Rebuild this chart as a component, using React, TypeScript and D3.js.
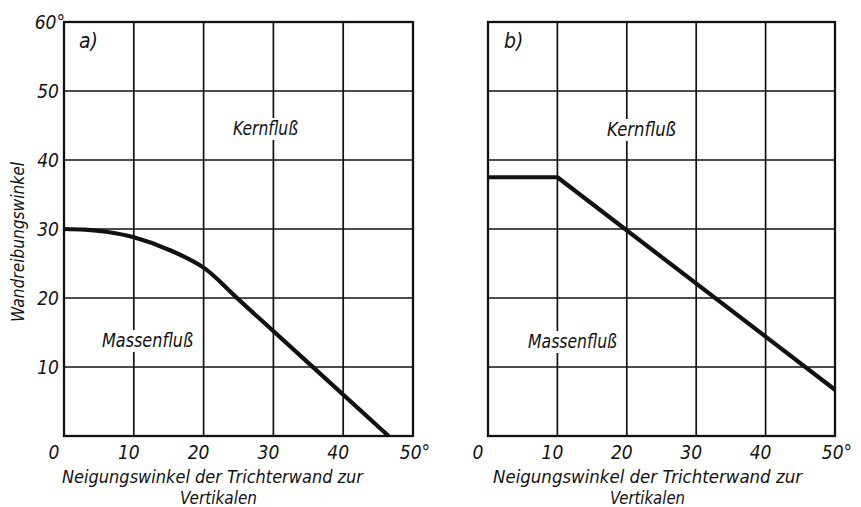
import React from "react";
import * as d3 from "d3";

const xTicks = [0, 10, 20, 30, 40, 50];
const xTickLabels = ["0", "10", "20", "30", "40", "50°"];
const yTicks = [0, 10, 20, 30, 40, 50, 60];
const yTickLabels = ["", "10", "20", "30", "40", "50", "60°"];

// Panel a: boundary between mass flow and core flow
const curveAx = [0, 3, 6, 10, 15, 20, 25, 46.5];
const curveAy = [30, 29.9, 29.6, 28.8, 27.0, 24.4, 19.8, 0];

// Panel b boundary
const lineBx = [0, 10, 50];
const lineBy = [37.5, 37.5, 6.7];

const yTitle = "Wandreibungswinkel";
const xTitle1 = "Neigungswinkel der Trichterwand zur";
const xTitle2 = "Vertikalen";
const upperLabel = "Kernfluß";
const lowerLabel = "Massenfluß";

const FONT = "'DejaVu Sans Condensed', 'Liberation Sans Narrow', 'DejaVu Sans', sans-serif";
const INK = "#111";

type PanelProps = {
  x0: number;
  x1: number;
  tag: string;
  tagX: number;
  segments: { xs: number[]; ys: number[]; smooth: boolean }[];
  upper: { x: number; y: number; w: number };
  lower: { x: number; y: number; w: number };
  title: { x1: number; w1: number; x2: number; w2: number };
  showY: boolean;
};

const top = 22;
const bottom = 436;

function Panel(p: PanelProps) {
  const x = d3.scaleLinear().domain([0, 50]).range([p.x0, p.x1]);
  const y = d3.scaleLinear().domain([0, 60]).range([bottom, top]);
  return (
    <g>
      {xTicks.slice(1, -1).map((t) => (
        <line key={"vx" + t} x1={x(t)} x2={x(t)} y1={top} y2={bottom} stroke={INK} strokeWidth={1.7} />
      ))}
      {yTicks.slice(1, -1).map((t) => (
        <line key={"hy" + t} x1={p.x0} x2={p.x1} y1={y(t)} y2={y(t)} stroke={INK} strokeWidth={1.7} />
      ))}
      <rect x={p.upper.x - 3} y={p.upper.y - 17} width={p.upper.w + 6} height={22} fill="white" />
      <text x={p.upper.x} y={p.upper.y} fontFamily={FONT} fontStyle="italic" fontSize={19} fill={INK}
        textLength={p.upper.w} lengthAdjust="spacingAndGlyphs">{upperLabel}</text>
      <rect x={p.lower.x - 3} y={p.lower.y - 17} width={p.lower.w + 6} height={22} fill="white" />
      <text x={p.lower.x} y={p.lower.y} fontFamily={FONT} fontStyle="italic" fontSize={19} fill={INK}
        textLength={p.lower.w} lengthAdjust="spacingAndGlyphs">{lowerLabel}</text>
      <rect x={p.x0} y={top} width={p.x1 - p.x0} height={bottom - top} fill="none" stroke={INK} strokeWidth={2.3} />
      {p.segments.map((s, i) => {
        const gen = d3
          .line<number>()
          .x((d) => x(s.xs[d]))
          .y((d) => y(s.ys[d]))
          .curve(s.smooth ? d3.curveCatmullRom.alpha(0.5) : d3.curveLinear);
        return (
          <path key={i} d={gen(s.xs.map((_, j) => j)) || ""} fill="none" stroke={INK} strokeWidth={4.2}
            strokeLinecap="butt" strokeLinejoin="round" />
        );
      })}
      <text x={p.tagX} y={48} fontFamily={FONT} fontStyle="italic" fontSize={21} fill={INK}>{p.tag}</text>
      {xTicks.map((t, i) => (
        <text key={"xl" + t} x={x(t) + (i === 0 ? -10 : i === xTicks.length - 1 ? 2 : -5)} y={459}
          textAnchor="middle" fontFamily={FONT} fontStyle="italic" fontSize={19} fill={INK}>
          {xTickLabels[i]}
        </text>
      ))}
      {p.showY &&
        yTicks.map((t, i) =>
          yTickLabels[i] ? (
            <text key={"yl" + t} x={i === yTicks.length - 1 ? p.x0 + 1 : p.x0 - 5} y={y(t) + 7}
              textAnchor="end" fontFamily={FONT} fontStyle="italic" fontSize={19} fill={INK}>
              {yTickLabels[i]}
            </text>
          ) : null
        )}
      <text x={p.title.x1} y={483} fontFamily={FONT} fontStyle="italic" fontSize={18} fill={INK}
        textLength={p.title.w1} lengthAdjust="spacingAndGlyphs">{xTitle1}</text>
      <text x={p.title.x2} y={504} fontFamily={FONT} fontStyle="italic" fontSize={18} fill={INK}
        textLength={p.title.w2} lengthAdjust="spacingAndGlyphs">{xTitle2}</text>
    </g>
  );
}

export default function App() {
  return (
    <svg width={861} height={507} viewBox="0 0 861 507"
      style={{ position: "absolute", left: 0, top: 0, background: "white" }}>
      <rect width={861} height={507} fill="white" />
      <Panel
        x0={64}
        x1={413}
        tag="a)"
        tagX={79}
        segments={[{ xs: curveAx, ys: curveAy, smooth: true }]}
        upper={{ x: 233, y: 135, w: 65 }}
        lower={{ x: 102, y: 347, w: 91 }}
        title={{ x1: 62, w1: 301, x2: 180, w2: 77 }}
        showY={true}
      />
      <Panel
        x0={488}
        x1={835}
        tag="b)"
        tagX={504}
        segments={[{ xs: lineBx, ys: lineBy, smooth: false }]}
        upper={{ x: 607, y: 136, w: 69 }}
        lower={{ x: 528, y: 348, w: 89 }}
        title={{ x1: 493, w1: 309, x2: 610, w2: 75 }}
        showY={false}
      />
      <text transform="translate(24,322) rotate(-90)" fontFamily={FONT} fontStyle="italic" fontSize={17}
        fill={INK} textLength={160} lengthAdjust="spacingAndGlyphs">{yTitle}</text>
    </svg>
  );
}
